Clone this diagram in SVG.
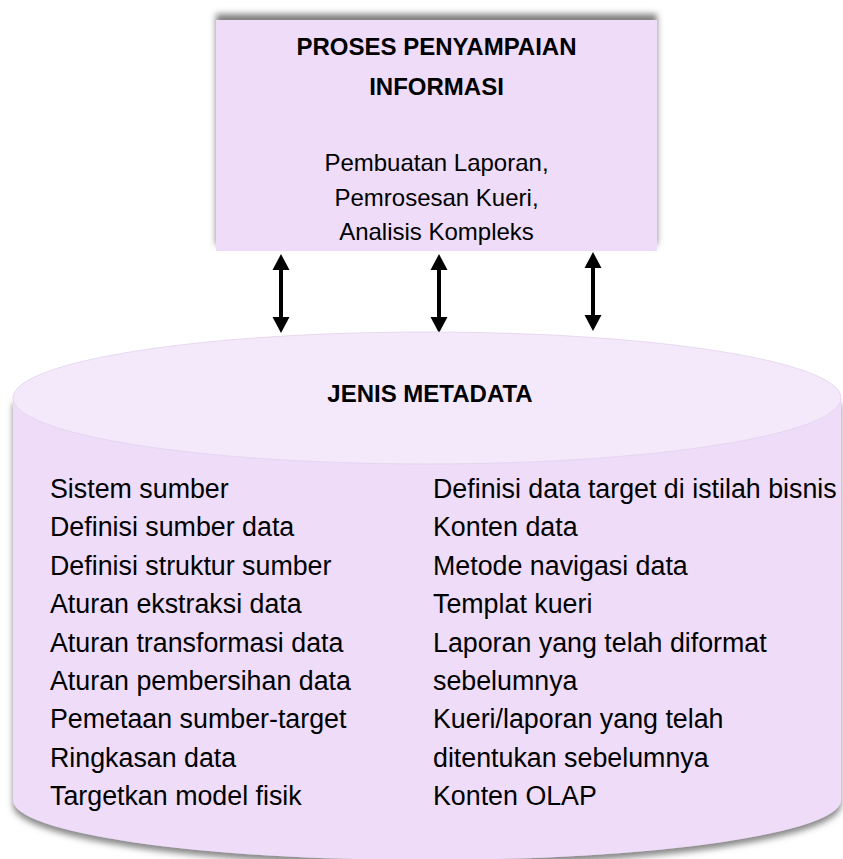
<svg xmlns="http://www.w3.org/2000/svg" width="843" height="859" viewBox="0 0 843 859">
<style>
.t{font-family:"Liberation Sans",Arial,sans-serif;fill:#000}
.b{font-weight:bold;font-size:24px}
.m{font-size:24px}
.l{font-size:26.8px}
</style>
<defs>
<filter id="shUp" x="-10%" y="-20%" width="120%" height="140%">
<feGaussianBlur in="SourceAlpha" stdDeviation="3"/>
<feOffset dx="0" dy="-6" result="o"/>
<feFlood flood-color="#555" flood-opacity="0.75"/>
<feComposite in2="o" operator="in"/>
<feMerge><feMergeNode/><feMergeNode in="SourceGraphic"/></feMerge>
</filter>
<filter id="shDown" x="-5%" y="-10%" width="110%" height="120%">
<feGaussianBlur in="SourceAlpha" stdDeviation="3"/>
<feOffset dx="0" dy="5" result="o"/>
<feFlood flood-color="#555" flood-opacity="0.7"/>
<feComposite in2="o" operator="in"/>
<feMerge><feMergeNode/><feMergeNode in="SourceGraphic"/></feMerge>
</filter>
</defs>
<rect width="843" height="859" fill="#fff"/>
<g id="proses">
<rect x="216" y="20" width="441" height="231" fill="#EFDCF8" filter="url(#shUp)"/>
<text class="t b" x="436.5" y="55" text-anchor="middle">PROSES PENYAMPAIAN</text>
<text class="t b" x="436.5" y="95" text-anchor="middle">INFORMASI</text>
<text class="t m" x="436.5" y="171" text-anchor="middle">Pembuatan Laporan,</text>
<text class="t m" x="436.5" y="206" text-anchor="middle">Pemrosesan Kueri,</text>
<text class="t m" x="436.5" y="240" text-anchor="middle">Analisis Kompleks</text>
</g>
<g id="connectors" fill="#000">
<path d="M281,254 L289.5,270 L283,270 L283,317 L289.5,317 L281,333 L272.5,317 L279,317 L279,270 L272.5,270 Z"/>
<path d="M439,254 L447.5,270 L441,270 L441,317 L447.5,317 L439,333 L430.5,317 L437,317 L437,270 L430.5,270 Z"/>
<path d="M593,252 L601.5,268 L595,268 L595,315 L601.5,315 L593,331 L584.5,315 L591,315 L591,268 L584.5,268 Z"/>
</g>
<g id="metadata">
<path d="M13,398 L13,800 A414,60 0 0 0 841,800 L841,398 Z" fill="#EEDCF8" filter="url(#shDown)"/>
<ellipse cx="427" cy="398" rx="414" ry="66" fill="#F4E9FA" stroke="#E2D2EC" stroke-width="0.8"/>
<text class="t b" x="430" y="402" text-anchor="middle">JENIS METADATA</text>
<g class="t l">
<text x="50" y="498">Sistem sumber</text>
<text x="50" y="536">Definisi sumber data</text>
<text x="50" y="575">Definisi struktur sumber</text>
<text x="50" y="613">Aturan ekstraksi data</text>
<text x="50" y="652">Aturan transformasi data</text>
<text x="50" y="690">Aturan pembersihan data</text>
<text x="50" y="728">Pemetaan sumber-target</text>
<text x="50" y="767">Ringkasan data</text>
<text x="50" y="805">Targetkan model fisik</text>
<text x="433" y="498">Definisi data target di istilah bisnis</text>
<text x="433" y="536">Konten data</text>
<text x="433" y="575">Metode navigasi data</text>
<text x="433" y="613">Templat kueri</text>
<text x="433" y="652">Laporan yang telah diformat</text>
<text x="433" y="690">sebelumnya</text>
<text x="433" y="728">Kueri/laporan yang telah</text>
<text x="433" y="767">ditentukan sebelumnya</text>
<text x="433" y="805">Konten OLAP</text>
</g>
</g>
</svg>
